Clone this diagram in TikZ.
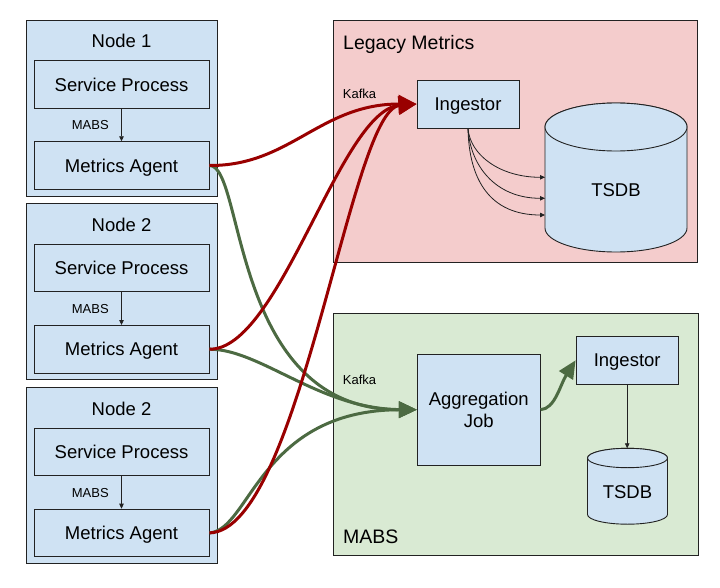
\documentclass[tikz,border=0pt]{standalone}
\usepackage{fontspec}
\setmainfont{Liberation Sans}
\usetikzlibrary{
    arrows.meta,
    positioning
}
\definecolor{boxblue}{HTML}{CFE2F3}
\definecolor{legacypink}{HTML}{F4CCCC}
\definecolor{mabsgreen}{HTML}{D9EAD3}
\definecolor{kafkared}{HTML}{990000}
\definecolor{mabsline}{RGB}{76,106,66}
\definecolor{edgegray}{RGB}{34,34,34}

\newcommand{\tsdbcyl}[5]{%
    \filldraw[cylbox] ({#1-#3},{#2}) -- ({#1-#3},{#2-#5})
        arc[start angle=180, end angle=360, x radius=#3, y radius=#4]
        -- ({#1+#3},{#2})
        arc[start angle=0, end angle=180, x radius=#3, y radius=#4] -- cycle;
    \draw[cylbox] (#1,#2) ellipse[x radius=#3, y radius=#4];
}

\begin{document}
\begin{tikzpicture}[
    x=1pt, y=1pt,
    groupbox/.style={
        draw=edgegray,
        line width=0.9pt,
        fill=boxblue,
        minimum width=191pt,
        minimum height=176pt,
        inner sep=0pt
    },
    procbox/.style={
        draw=edgegray,
        line width=0.9pt,
        fill=boxblue,
        minimum width=175pt,
        minimum height=47.5pt,
        inner sep=0pt,
        text depth=0pt,
        font=\fontsize{18.5}{21.3}\selectfont
    },
    panel/.style={
        draw=edgegray,
        line width=0.9pt,
        minimum height=242pt,
        inner sep=0pt
    },
    cylbox/.style={
        draw=edgegray,
        line width=0.9pt,
        fill=boxblue
    },
    bodytext/.style={
        inner sep=0pt,
        font=\fontsize{18.5}{21.3}\selectfont
    },
    paneltitle/.style={
        inner sep=0pt,
        font=\fontsize{19.5}{22}\selectfont
    },
    smalltext/.style={
        inner sep=0pt,
        font=\fontsize{13}{15}\selectfont
    },
    thinarrow/.style={
        -{Triangle[length=5pt,width=4.5pt]},
        line width=0.8pt,
        draw=edgegray
    },
    kafkaarrow/.style={
        -{Triangle[length=18pt,width=18pt]},
        line width=3pt,
        draw=kafkared
    },
    mabsarrow/.style={
        -{Triangle[length=18pt,width=16pt]},
        line width=3pt,
        draw=mabsline
    }
]

\useasboundingbox (0,0) rectangle (720,-588);

\foreach \i/\lbl/\yy in {1/Node 1/0, 2/Node 2/183.7, 3/Node 2/367.4} {
    \node[groupbox] (group\i) at (121.5,-108-\yy) {};
    \node[bodytext, anchor=base] (name\i) at (121.5,-47.7-\yy) {\lbl};
    \node[procbox] (svc\i) at (121.5,-84.4-\yy) {Service Process};
    \node[procbox, below=32.7pt of svc\i] (agent\i) {Metrics Agent};
    \node[smalltext, anchor=base west] (mabs\i) at (71.7,-130-\yy) {MABS};
    \draw[thinarrow] (svc\i) -- (agent\i);
}

\node[panel, fill=legacypink, minimum width=364pt] (legacy) at (515,-141) {};
\node[panel, fill=mabsgreen, minimum width=365pt] (mabspanel) at (515.5,-434) {};

\node[paneltitle, anchor=base west] (legacytitle) at (343,-50) {Legacy Metrics};
\node[paneltitle, anchor=base west] (mabstitle) at (343,-543) {MABS};
\node[smalltext, anchor=base west] (kafkaLegacy) at (342.7,-99) {Kafka};
\node[smalltext, anchor=base west] (kafkaMabs) at (342.7,-384.7) {Kafka};

\node[procbox, minimum width=102pt, minimum height=48pt] (ingestLegacy) at (468,-104) {Ingestor};
\node[procbox, minimum width=122.7pt, minimum height=110.7pt, align=center] (aggjob) at (478.7,-409.7) {Aggregation\\Job};
\node[procbox, minimum width=102.3pt, minimum height=47.3pt] (ingestMabs) at (627.2,-360.3) {Ingestor};

\tsdbcyl{616}{-127}{71}{24}{101}
\tsdbcyl{627.5}{-458}{40}{9.7}{56.5}
\node[bodytext] (dbLegacy) at (616,-190) {TSDB};
\node[bodytext] (dbMabs) at (627.5,-492) {TSDB};

\coordinate (dbport1) at (545,-177.3);
\coordinate (dbport2) at (545,-198.3);
\coordinate (dbport3) at (545,-215);
\coordinate (dbMabsTop) at (627.2,-448.3);

\draw[thinarrow] (ingestLegacy.south) .. controls (470,-155) and (500,-177.3) .. (dbport1);
\draw[thinarrow] (ingestLegacy.south) .. controls (470,-165) and (495,-198.3) .. (dbport2);
\draw[thinarrow] (ingestLegacy.south) .. controls (469,-180) and (490,-215) .. (dbport3);
\draw[thinarrow] (ingestMabs.south) -- (dbMabsTop);

\draw[mabsarrow] (agent1.east) .. controls (245,-165) and (230,-410) .. (aggjob.west);
\draw[mabsarrow] (agent2.east) .. controls (260,-349) and (320,-409) .. (aggjob.west);
\draw[mabsarrow] (agent3.east) .. controls (250,-530) and (260,-410) .. (aggjob.west);
\draw[mabsarrow] (aggjob.east) .. controls (555,-409) and (560,-385) .. (ingestMabs.west);

\draw[kafkaarrow] (agent1.east) .. controls (290,-166) and (320,-104) .. (ingestLegacy.west);
\draw[kafkaarrow] (agent2.east) .. controls (280,-350) and (340,-110) .. (ingestLegacy.west);
\draw[kafkaarrow] (agent3.east) .. controls (300,-531) and (350,-110) .. (ingestLegacy.west);

\end{tikzpicture}
\end{document}
